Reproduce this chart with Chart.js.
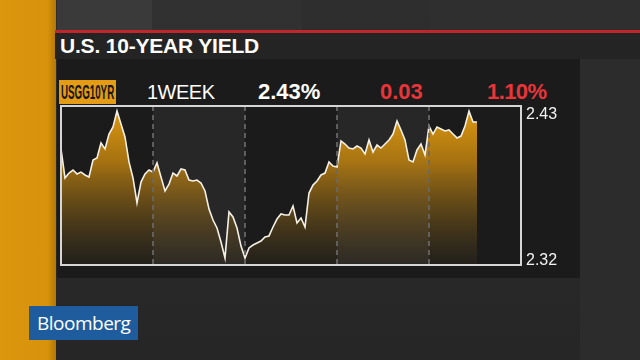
<!DOCTYPE html>
<html>
<head>
<meta charset="utf-8">
<script src="https://cdn.jsdelivr.net/npm/chart.js@4.4.1/dist/chart.umd.min.js"></script>
<style>
  html, body { margin: 0; padding: 0; }
  body { width: 640px; height: 360px; overflow: hidden; position: relative; background: linear-gradient(180deg, #2e2e2e, #262626); font-family: "Liberation Sans", Arial, sans-serif; }
  .abs { position: absolute; }
  #stripe { left: 0; top: 0; width: 56px; height: 360px; background: linear-gradient(90deg, #dc960e 0%, #d8920b 85%, #b27708 100%); }
  #redline { left: 55px; top: 30px; width: 585px; height: 3px; background: #c0272d; }
  #titlebar { left: 55px; top: 33px; width: 585px; height: 26px; background: #242424; }
  #title { left: 60px; top: 33px; height: 26px; line-height: 26px; color: #fff; font-weight: bold; font-size: 21px; letter-spacing: -0.2px; }
  #panel { left: 57px; top: 59px; width: 523px; height: 219px; background: #1b1b1b; }
  #side { left: 580px; top: 59px; width: 60px; height: 301px; background: #2c2c2c; }
  .hdr { top: 80px; height: 24px; line-height: 24px; font-size: 22px; white-space: nowrap; }
  #ticker { left: 59px; width: 57px; background: #e39c14; color: #151515; font-family: "Liberation Sans Narrow", "Liberation Sans", sans-serif; font-weight: bold; overflow: hidden; }
  #ticker span { display: inline-block; font-size: 21px; transform-origin: 0 50%; margin-left: 2px; }
  #period { left: 147px; color: #fff; font-size: 20px; letter-spacing: -0.5px; }
  #last { left: 258px; color: #fff; font-weight: bold; }
  #chg { left: 380px; color: #e8353a; font-weight: bold; }
  #pct { left: 487px; color: #e8353a; font-weight: bold; letter-spacing: -0.6px; }
  #logo { left: 29px; top: 306px; width: 109px; height: 34px; line-height: 34px; background: #1f5c9e; color: #fff; font-family: "Open Sans", sans-serif; font-size: 19px; letter-spacing: -0.5px; padding-left: 8px; box-sizing: border-box; }
  #c { position: absolute; left: 0; top: 0; }
</style>
</head>
<body>
<div class="abs" id="stripe"></div>
<div class="abs" style="left:57px;top:0;width:95px;height:30px;background:#3a3a3a"></div>
<div class="abs" style="left:152px;top:0;width:150px;height:30px;background:#313131"></div>
<div class="abs" style="left:430px;top:0;width:210px;height:30px;background:#2f2f2f"></div>
<div class="abs" id="redline"></div>
<div class="abs" id="titlebar"></div>
<div class="abs" id="title"></div>
<div class="abs" id="panel"></div>
<div class="abs" id="side"></div>
<div class="abs hdr" id="ticker"><span></span></div>
<div class="abs hdr" id="period"></div>
<div class="abs hdr" id="last"></div>
<div class="abs hdr" id="chg"></div>
<div class="abs hdr" id="pct"></div>
<canvas id="c" width="640" height="360"></canvas>
<div class="abs" id="logo">Bloomberg</div>

<script>
// header text
const title = 'U.S. 10-YEAR YIELD';
const ticker = 'USGG10YR';
const period = '1WEEK';
const lastYield = '2.43%';
const netChange = '0.03';
const pctChange = '1.10%';

// 5 trading days, 23 slots each; the last day is only partly done
const dayCount = 5;
const slotsPerDay = 23;

// 10-year yield, one value per slot
const yields = [
  2.4003, 2.3802, 2.3836, 2.3857, 2.3830, 2.3843, 2.3823, 2.3809, 2.3926, 2.3940,
  2.4044, 2.4003, 2.4106, 2.4155, 2.4265, 2.4175, 2.4086, 2.3913, 2.3802, 2.3629,
  2.3774, 2.3830, 2.3857, 2.3843, 2.3906, 2.3809, 2.3712, 2.3760, 2.3836, 2.3816,
  2.3864, 2.3857, 2.3788, 2.3781, 2.3788, 2.3767, 2.3712, 2.3587, 2.3511, 2.3456,
  2.3359, 2.3248, 2.3567, 2.3532, 2.3456, 2.3331, 2.3248, 2.3318, 2.3338, 2.3352,
  2.3366, 2.3394, 2.3401, 2.3463, 2.3518, 2.3553, 2.3546, 2.3546, 2.3608, 2.3491,
  2.3525, 2.3463, 2.3698, 2.3753, 2.3781, 2.3823, 2.3836, 2.3913, 2.3885, 2.3878,
  2.4058, 2.4037, 2.4009, 2.4003, 2.4023, 2.4009, 2.3968, 2.4065, 2.3982, 2.4030,
  2.4009, 2.4037, 2.4065, 2.4106, 2.4196, 2.4134, 2.4065, 2.3926, 2.3913, 2.3996,
  2.4037, 2.3961, 2.4162, 2.4106, 2.4155, 2.4141, 2.4127, 2.4134, 2.4106, 2.4079,
  2.4092, 2.4162, 2.4265, 2.4189, 2.4189
];

// right hand scale labels
const yTickLabels = ['2.43', '2.32'];
const yMin = 2.32, yMax = 2.43;

document.getElementById('title').textContent = title;
const tk = document.querySelector('#ticker span');
tk.textContent = ticker;
tk.style.transform = 'scaleX(' + (53 / tk.offsetWidth).toFixed(3) + ')'; // squeeze into the box
document.getElementById('period').textContent = period;
document.getElementById('last').textContent = lastYield;
document.getElementById('chg').textContent = netChange;
document.getElementById('pct').textContent = pctChange;

const points = yields.map((v, i) => ({ x: i, y: v }));
const lastSlot = dayCount * slotsPerDay;

// day bands, white frame, scale labels
const frame = {
  id: 'frame',
  beforeDraw(chart) {
    const { ctx, chartArea: a, scales: { x } } = chart;
    ctx.save();
    for (let d = 0; d < dayCount; d++) {
      const x0 = x.getPixelForValue(d * slotsPerDay);
      const x1 = x.getPixelForValue((d + 1) * slotsPerDay);
      ctx.fillStyle = d % 2 ? '#272727' : '#1b1b1b';
      ctx.fillRect(x0, a.top, x1 - x0, a.bottom - a.top);
    }
    ctx.restore();
  },
  afterDraw(chart) {
    const { ctx, chartArea: a, scales: { y } } = chart;
    ctx.save();
    ctx.strokeStyle = '#d6d6d6';
    ctx.lineWidth = 2;
    ctx.strokeRect(a.left, a.top, a.right - a.left, a.bottom - a.top);
    ctx.fillStyle = '#f2f2f2';
    ctx.font = '16px "Liberation Sans", Arial, sans-serif';
    ctx.textAlign = 'left';
    ctx.textBaseline = 'top';
    ctx.fillText(yTickLabels[0], a.right + 5, y.getPixelForValue(parseFloat(yTickLabels[0])) + 1);
    ctx.textBaseline = 'bottom';
    ctx.fillText(yTickLabels[1], a.right + 5, y.getPixelForValue(parseFloat(yTickLabels[1])) + 4);
    ctx.restore();
  }
};

const data = {
  datasets: [{
    label: ticker,
    data: points,
    borderColor: '#f5f0e6',
    borderWidth: 1.6,
    pointRadius: 0,
    tension: 0,
    fill: 'start',
    backgroundColor: (c) => {
      const a = c.chart.chartArea;
      if (!a) return 'rgba(217,150,14,0.5)';
      const g = c.chart.ctx.createLinearGradient(0, a.top, 0, a.bottom);
      g.addColorStop(0, 'rgba(226,156,16,1)');
      g.addColorStop(0.35, 'rgba(200,136,14,0.8)');
      g.addColorStop(1, 'rgba(120,90,30,0.08)');
      return g;
    }
  }]
};

const config = {
  type: 'line',
  data: data,
  options: {
    responsive: false,
    animation: false,
    devicePixelRatio: 1,
    layout: { padding: { left: 61, top: 106, right: 119, bottom: 95 } },
    plugins: { legend: { display: false }, tooltip: { enabled: false } },
    scales: {
      x: {
        type: 'linear',
        min: 0,
        max: lastSlot,
        ticks: { display: false, stepSize: slotsPerDay },
        grid: {
          drawTicks: false,
          z: 1,
          lineWidth: 2,
          color: (c) => (c.tick && c.tick.value > 0 && c.tick.value < lastSlot) ? 'rgba(105,105,105,0.85)' : 'rgba(0,0,0,0)'
        },
        border: { display: false, dash: [5, 4] }
      },
      y: {
        display: false,
        min: yMin,
        max: yMax
      }
    }
  },
  plugins: [frame]
};

const myChart = new Chart(document.getElementById('c'), config);
</script>
</body>
</html>
